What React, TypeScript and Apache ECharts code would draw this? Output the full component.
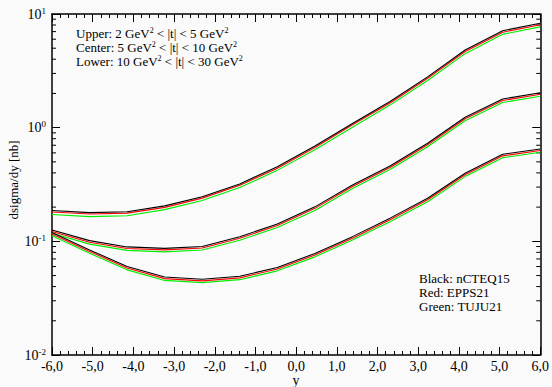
import React, { useEffect, useRef } from "react";
import * as echarts from "echarts";

const X_POINTS = [-6, -5.077, -4.154, -3.231, -2.308, -1.385, -0.462, 0.462, 1.385, 2.308, 3.231, 4.154, 5.077, 6];

const UPPER_NCTEQ = [0.187, 0.179, 0.182, 0.205, 0.247, 0.32, 0.454, 0.69, 1.09, 1.7, 2.8, 4.82, 7.13, 8.28];
const UPPER_EPPS = [0.181, 0.174, 0.177, 0.199, 0.24, 0.311, 0.44, 0.67, 1.06, 1.65, 2.72, 4.68, 6.92, 8.03];
const UPPER_TUJU = [0.172, 0.165, 0.168, 0.19, 0.229, 0.297, 0.421, 0.64, 1.01, 1.58, 2.6, 4.48, 6.63, 7.7];

const CENTER_NCTEQ = [0.126, 0.1014, 0.0893, 0.0867, 0.0902, 0.1097, 0.1423, 0.201, 0.313, 0.46, 0.729, 1.235, 1.788, 2.03];
const CENTER_EPPS = [0.122, 0.098, 0.0866, 0.0841, 0.0875, 0.1064, 0.138, 0.195, 0.304, 0.446, 0.707, 1.198, 1.735, 1.97];
const CENTER_TUJU = [0.118, 0.0945, 0.0832, 0.0808, 0.084, 0.1022, 0.1325, 0.187, 0.292, 0.428, 0.679, 1.15, 1.665, 1.89];

const LOWER_NCTEQ = [0.1197, 0.084, 0.0601, 0.0486, 0.0464, 0.0493, 0.0589, 0.0782, 0.11, 0.16, 0.239, 0.397, 0.583, 0.65];
const LOWER_EPPS = [0.116, 0.0815, 0.0583, 0.047, 0.0449, 0.0477, 0.0571, 0.0758, 0.1067, 0.155, 0.232, 0.385, 0.565, 0.63];
const LOWER_TUJU = [0.112, 0.0785, 0.0561, 0.0453, 0.0433, 0.046, 0.055, 0.073, 0.1027, 0.149, 0.223, 0.371, 0.544, 0.607];

const Y_DECADES = [0.01, 0.1, 1];
const MINOR_MULTIPLIERS = [2, 3, 4, 5, 6, 7, 8, 9];

const ANNOTATION_LINES = [
  "Upper: 2 GeV{s|2} < |t| < 5 GeV{s|2}",
  "Center: 5 GeV{s|2} < |t| < 10 GeV{s|2}",
  "Lower: 10 GeV{s|2} < |t| < 30 GeV{s|2}",
];
const LEGEND_LINES = ["Black: nCTEQ15", "Red: EPPS21", "Green: TUJU21"];

const FONT = "Liberation Serif";

export default function App() {
  const ref = useRef<HTMLDivElement>(null);
  useEffect(() => {
    if (!ref.current) return;
    const chart = echarts.init(ref.current, null, { renderer: "svg" });
    const pairs = (ys: number[]) => X_POINTS.map((x, i) => [x, ys[i]]);
    const minorVals: number[][] = [];
    Y_DECADES.forEach((d) => MINOR_MULTIPLIERS.forEach((m) => minorVals.push([m * d])));

    const lineSeries = (name: string, ys: number[], color: string) => ({
      type: "line",
      name,
      data: pairs(ys),
      showSymbol: false,
      symbol: "none",
      lineStyle: { color, width: 1.1 },
      silent: true,
    });

    const axisLineStyle = { show: true, onZero: false, lineStyle: { color: "#000", width: 1.5 } };
    const xCommon = {
      type: "value",
      min: -6,
      max: 6,
      interval: 1,
      axisLine: axisLineStyle,
      axisTick: { show: true, inside: true, length: 8, lineStyle: { color: "#000", width: 1 } },
      minorTick: { show: true, splitNumber: 5, length: 4, lineStyle: { color: "#000", width: 1 } },
      splitLine: { show: false },
      minorSplitLine: { show: false },
    };
    const yCommon = {
      type: "log",
      min: 0.01,
      max: 10,
      logBase: 10,
      axisLine: axisLineStyle,
      axisTick: { show: true, inside: true, length: 8, lineStyle: { color: "#000", width: 1 } },
      splitLine: { show: false },
    };

    const supRich = {
      b: { fontFamily: FONT, fontSize: 14, color: "#000", lineHeight: 16 },
      s: { fontFamily: FONT, fontSize: 9, color: "#000", verticalAlign: "top", lineHeight: 9 },
    };

    const annotation = ANNOTATION_LINES.map((t, i) => ({
      type: "text",
      x: 76,
      y: 33 + i * 14,
      style: {
        text: t,
        font: `13px "${FONT}"`,
        fill: "#000",
        verticalAlign: "middle",
        lineHeight: 13,
        rich: {
          s: { fontFamily: FONT, fontSize: 8, fill: "#000", verticalAlign: "top", lineHeight: 8 },
        },
      },
    }));
    const legend = LEGEND_LINES.map((t, i) => ({
      type: "text",
      x: 419,
      y: 278 + i * 14,
      style: { text: t, font: `13px "${FONT}"`, fill: "#000", verticalAlign: "middle", lineHeight: 13 },
    }));

    chart.setOption({
      animation: false,
      backgroundColor: "#fafafa",
      grid: { left: 52, right: 11, top: 14, bottom: 32 },
      xAxis: [
        {
          ...xCommon,
          position: "bottom",
          axisLabel: {
            margin: 4,
            fontFamily: FONT,
            fontSize: 14,
            color: "#000",
            formatter: (v: number) => v.toFixed(1).replace(".", ","),
          },
        },
        { ...xCommon, position: "top", axisLabel: { show: false } },
      ],
      yAxis: [
        {
          ...yCommon,
          position: "left",
          axisLabel: {
            margin: 6,
            formatter: (v: number) => `{b|10}{s|${Math.round(Math.log10(v))}}`,
            rich: supRich,
          },
        },
        { ...yCommon, position: "right", axisLabel: { show: false } },
      ],
      series: [
        lineSeries("TUJU21 upper", UPPER_TUJU, "#00ee00"),
        lineSeries("EPPS21 upper", UPPER_EPPS, "#ff0000"),
        lineSeries("nCTEQ15 upper", UPPER_NCTEQ, "#000000"),
        lineSeries("TUJU21 center", CENTER_TUJU, "#00ee00"),
        lineSeries("EPPS21 center", CENTER_EPPS, "#ff0000"),
        lineSeries("nCTEQ15 center", CENTER_NCTEQ, "#000000"),
        lineSeries("TUJU21 lower", LOWER_TUJU, "#00ee00"),
        lineSeries("EPPS21 lower", LOWER_EPPS, "#ff0000"),
        lineSeries("nCTEQ15 lower", LOWER_NCTEQ, "#000000"),
        {
          type: "custom",
          silent: true,
          data: minorVals,
          encode: { y: 0 },
          renderItem: (_params: any, api: any) => {
            const v = api.value(0);
            const l = api.coord([-6, v]);
            const r = api.coord([6, v]);
            return {
              type: "group",
              children: [
                { type: "line", shape: { x1: l[0], y1: l[1], x2: l[0] + 4, y2: l[1] }, style: { stroke: "#000", lineWidth: 1 } },
                { type: "line", shape: { x1: r[0] - 4, y1: r[1], x2: r[0], y2: r[1] }, style: { stroke: "#000", lineWidth: 1 } },
              ],
            };
          },
        },
      ],
      graphic: [
        {
          type: "text",
          x: 13,
          y: 180,
          rotation: Math.PI / 2,
          style: { text: "dsigma/dy [nb]", font: `13px "${FONT}"`, fill: "#000", align: "center", verticalAlign: "middle" },
        },
        {
          type: "text",
          x: 296,
          y: 380,
          style: { text: "y", font: `14px "${FONT}"`, fill: "#000", align: "center", verticalAlign: "middle" },
        },
        ...annotation,
        ...legend,
      ],
    });
    return () => chart.dispose();
  }, []);
  return <div ref={ref} style={{ position: "fixed", left: 0, top: 0, width: 552, height: 387 }} />;
}
